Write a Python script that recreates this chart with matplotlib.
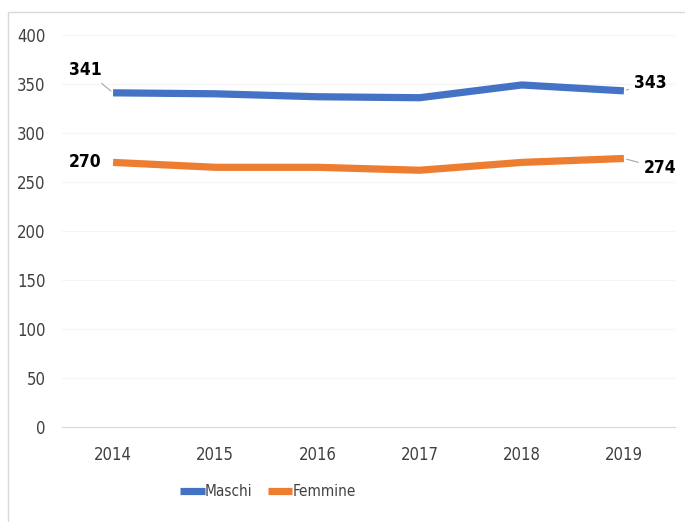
import matplotlib.pyplot as plt
from matplotlib.patches import Rectangle

# Andamento annuale per sesso
anni = ["2014", "2015", "2016", "2017", "2018", "2019"]
maschi = [341, 340, 337, 336, 349, 343]
femmine = [270, 265, 265, 262, 270, 274]
y_ticks = [0, 50, 100, 150, 200, 250, 300, 350, 400]

BLU = "#4472C4"
ARANCIO = "#ED7D31"

plt.rcParams["font.family"] = ["Liberation Sans Narrow", "DejaVu Sans"]
plt.rcParams["font.stretch"] = "condensed"

fig = plt.figure(figsize=(6.85, 5.22), dpi=100)
fig.patches.append(Rectangle((8 / 685, -0.1), 1.2, 1 - 12 / 522 + 0.1,
                             transform=fig.transFigure, fill=False,
                             edgecolor="#d9d9d9", linewidth=1.0))

ax = fig.add_axes([62 / 685, 1 - 427 / 522, 613 / 685, 392 / 522])
x = range(len(anni))
ax.plot(x, maschi, color=BLU, linewidth=5.2, solid_capstyle="butt", label="Maschi")
ax.plot(x, femmine, color=ARANCIO, linewidth=5.2, solid_capstyle="butt", label="Femmine")

ax.set_xlim(-0.5, len(anni) - 0.5)
ax.set_ylim(0, 400)
ax.set_xticks(list(x))
ax.set_xticklabels(anni)
ax.set_yticks(y_ticks)
ax.tick_params(length=0, labelsize=12, colors="#404040")
ax.tick_params(axis="x", pad=14)
ax.tick_params(axis="y", pad=12)
for lato in ["top", "right", "left"]:
    ax.spines[lato].set_visible(False)
ax.spines["bottom"].set_color("#d9d9d9")
ax.grid(axis="y", color="#f4f4f4", linewidth=0.8)
ax.set_axisbelow(True)

# etichette dei valori estremi con linea guida
freccia = dict(arrowstyle="-", color="#a6a6a6", linewidth=0.8)
ax.annotate(str(maschi[0]), (0, maschi[0]), xytext=(-20, 10), textcoords="offset points",
            ha="center", va="bottom", fontsize=12.5, fontweight="bold", arrowprops=freccia)
ax.annotate(str(femmine[0]), (0, femmine[0]), xytext=(-20, 0), textcoords="offset points",
            ha="center", va="center", fontsize=12.5, fontweight="bold")
ax.annotate(str(maschi[-1]), (5, maschi[-1]), xytext=(19, 6), textcoords="offset points",
            ha="center", va="center", fontsize=12.5, fontweight="bold", arrowprops=freccia)
ax.annotate(str(femmine[-1]), (5, femmine[-1]), xytext=(26, -7), textcoords="offset points",
            ha="center", va="center", fontsize=12.5, fontweight="bold", arrowprops=freccia)

fig.legend(loc="center", bbox_to_anchor=(268 / 685, 1 - 492 / 522), ncol=2, frameon=False,
           fontsize=11, handlelength=1.6, handletextpad=0.0, columnspacing=1.0,
           labelcolor="#404040")

fig.savefig("out.png", dpi=100)
